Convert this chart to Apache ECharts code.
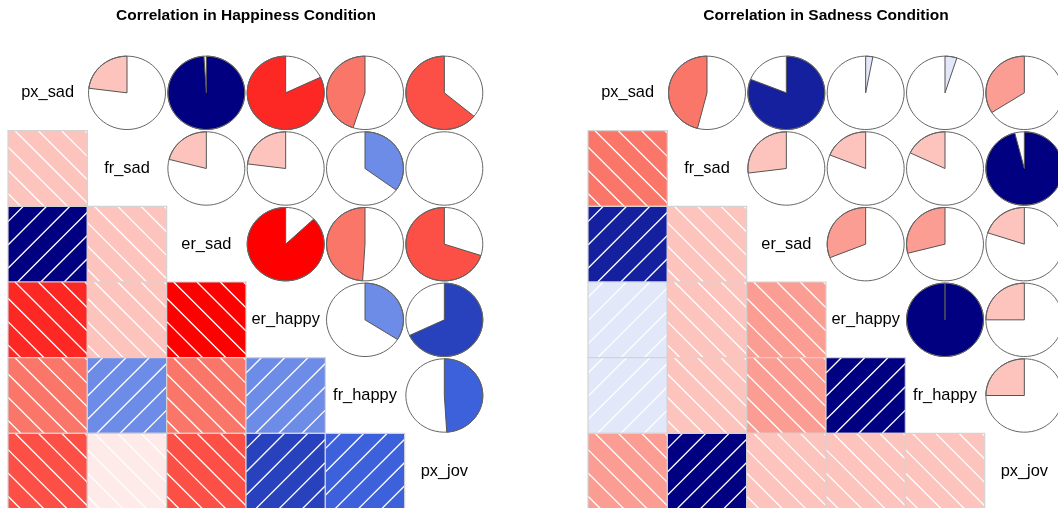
<!DOCTYPE html>
<html><head><meta charset="utf-8">
<script src="https://cdn.jsdelivr.net/npm/echarts@6/dist/echarts.min.js"></script>
<style>html,body{margin:0;padding:0;background:#fff}#chart{width:1058px;height:508px}</style>
</head><body><div id="chart"></div>
<script>
// ---------------- data ----------------
const variables = ['px_sad', 'fr_sad', 'er_sad', 'er_happy', 'fr_happy', 'px_jov'];
const panelTitles = ['Correlation in Happiness Condition', 'Correlation in Sadness Condition'];

// correlation matrices (order = variables)
const happinessCorr = [
  [ 1.00, -0.23,  0.99, -0.82, -0.45, -0.64],
  [-0.23,  1.00, -0.21, -0.23,  0.35, -0.005],
  [ 0.99, -0.21,  1.00, -0.87, -0.49, -0.70],
  [-0.82, -0.23, -0.87,  1.00,  0.34,  0.68],
  [-0.45,  0.35, -0.49,  0.34,  1.00,  0.49],
  [-0.64, -0.005, -0.70, 0.68,  0.49,  1.00]
];
const sadnessCorr = [
  [ 1.00, -0.46,  0.81,  0.03,  0.05, -0.34],
  [-0.46,  1.00, -0.27, -0.19, -0.18,  0.96],
  [ 0.81, -0.27,  1.00, -0.31, -0.29, -0.20],
  [ 0.03, -0.19, -0.31,  1.00,  1.00, -0.25],
  [ 0.05, -0.18, -0.29,  1.00,  1.00, -0.25],
  [-0.34,  0.96, -0.20, -0.25, -0.25,  1.00]
];

// ---------------- style ----------------
const FONT = '"Liberation Sans", Arial, Helvetica, sans-serif';
const rampAnchors = [[255,0,0],[250,128,114],[255,255,255],[65,105,225],[0,0,128]];
function ramp(n) {
  const out = [];
  const segs = rampAnchors.length - 1;
  for (let i = 0; i < n; i++) {
    const pos = i / (n - 1) * segs;
    let k = Math.min(Math.floor(pos), segs - 1);
    const t = pos - k;
    const a = rampAnchors[k], b = rampAnchors[k + 1];
    const c = a.map((v, j) => Math.round(v + (b[j] - v) * t));
    out.push('rgb(' + c.join(',') + ')');
  }
  return out;
}
const pal = ramp(14);
function corrColor(r) {
  let idx = Math.ceil((r + 1) * 7) - 1;
  if (idx < 0) idx = 0;
  if (idx > 13) idx = 13;
  return pal[idx];
}

const gridLefts = [8, 588];
const gridTop = 55, gridW = 476, gridH = 454;
const HATCH = 23.3;

function cellBox(api, c, row) {
  const a = api.coord([c, row]), b = api.coord([c + 1, row + 1]);
  const x = Math.min(a[0], b[0]), y = Math.min(a[1], b[1]);
  return {x, y, w: Math.abs(b[0] - a[0]), h: Math.abs(b[1] - a[1])};
}

function renderShade(params, api) {
  const c = api.value(0), row = api.value(1), r = api.value(2);
  const bx = cellBox(api, c, row);
  const children = [{
    type: 'rect', shape: {x: bx.x, y: bx.y, width: bx.w, height: bx.h},
    style: {fill: corrColor(r)}
  }];
  const w = bx.w, h = bx.h;
  const hs = {stroke: '#fff', lineWidth: 1.3};
  if (r > 0) { // "/" lines : u + v = k
    for (let k = 15.3; k < w + h; k += HATCH) {
      const u1 = Math.max(0, k - h), u2 = Math.min(w, k);
      if (u2 <= u1) continue;
      children.push({type: 'line', shape: {x1: bx.x + u1, y1: bx.y + (k - u1), x2: bx.x + u2, y2: bx.y + (k - u2)}, style: hs});
    }
  } else { // "\" lines : u - v = k
    let k0 = 7;
    while (k0 - HATCH > -h) k0 -= HATCH;
    for (let k = k0; k < w; k += HATCH) {
      const u1 = Math.max(0, k), u2 = Math.min(w, k + h);
      if (u2 <= u1) continue;
      children.push({type: 'line', shape: {x1: bx.x + u1, y1: bx.y + (u1 - k), x2: bx.x + u2, y2: bx.y + (u2 - k)}, style: hs});
    }
  }
  children.push({type: 'rect', shape: {x: bx.x, y: bx.y, width: bx.w, height: bx.h},
    style: {fill: null, stroke: '#d3d3d3', lineWidth: 1.2}});
  return {type: 'group', children};
}

function renderPie(params, api) {
  const c = api.value(0), row = api.value(1), r = api.value(2);
  const bx = cellBox(api, c, row);
  const cx = bx.x + bx.w / 2, cy = bx.y + bx.h / 2;
  const rx = bx.w / 2 * 0.97, ry = bx.h / 2 * 0.97;
  const children = [];
  const segs = Math.round(60 * Math.abs(r));
  if (segs > 0) {
    const a0 = Math.PI / 2, a1 = Math.PI / 2 - 2 * Math.PI * r;
    const pts = [];
    for (let i = 0; i < segs; i++) {
      const a = segs === 1 ? a0 : a0 + (a1 - a0) * i / (segs - 1);
      pts.push([cx + Math.cos(a) * rx, cy - Math.sin(a) * ry]);
    }
    pts.push([cx, cy]);
    children.push({type: 'polygon', shape: {points: pts},
      style: {fill: corrColor(r), stroke: '#555', lineWidth: 1}});
  }
  const circ = [];
  for (let i = 0; i < 60; i++) {
    const a = 2 * Math.PI * i / 59;
    circ.push([cx + Math.cos(a) * rx, cy - Math.sin(a) * ry]);
  }
  children.push({type: 'polyline', shape: {points: circ}, style: {stroke: '#666', lineWidth: 1, fill: null}});
  return {type: 'group', children};
}

function renderLabel(params, api) {
  const i = api.value(0);
  const bx = cellBox(api, i, i);
  return {type: 'text', x: bx.x + bx.w / 2, y: bx.y + bx.h / 2,
    style: {text: variables[i], fill: '#000', fontSize: 16.4, fontFamily: FONT, align: 'center', verticalAlign: 'middle'}};
}

const matrices = [happinessCorr, sadnessCorr];
const grids = [], xAxes = [], yAxes = [], series = [], titles = [];
matrices.forEach((m, g) => {
  grids.push({left: gridLefts[g], top: gridTop, width: gridW, height: gridH, containLabel: false, outerBoundsMode: 'none'});
  xAxes.push({type: 'value', gridIndex: g, min: 0, max: variables.length, show: false});
  yAxes.push({type: 'value', gridIndex: g, min: 0, max: variables.length, inverse: true, show: false});
  const lower = [], upper = [], diag = [];
  for (let i = 0; i < variables.length; i++) {
    for (let j = 0; j < variables.length; j++) {
      if (i > j) lower.push([j, i, m[i][j]]);
      else if (i < j) upper.push([j, i, m[i][j]]);
      else diag.push([i, i, 1]);
    }
  }
  series.push({type: 'custom', xAxisIndex: g, yAxisIndex: g, renderItem: renderShade, data: lower, clip: false, silent: true});
  series.push({type: 'custom', xAxisIndex: g, yAxisIndex: g, renderItem: renderPie, data: upper, clip: false, silent: true});
  series.push({type: 'custom', xAxisIndex: g, yAxisIndex: g, renderItem: renderLabel, data: diag, clip: false, silent: true});
  titles.push({text: panelTitles[g], left: gridLefts[g] + gridW / 2, top: 8, textAlign: 'center', padding: 0,
    textStyle: {fontSize: 15.5, fontWeight: 'bold', fontFamily: FONT, color: '#000'}});
});

const chart = echarts.init(document.getElementById('chart'), null, {renderer: 'canvas'});
chart.setOption({
  backgroundColor: '#fff',
  animation: false,
  title: titles,
  grid: grids,
  xAxis: xAxes,
  yAxis: yAxes,
  series: series
});
</script></body></html>
